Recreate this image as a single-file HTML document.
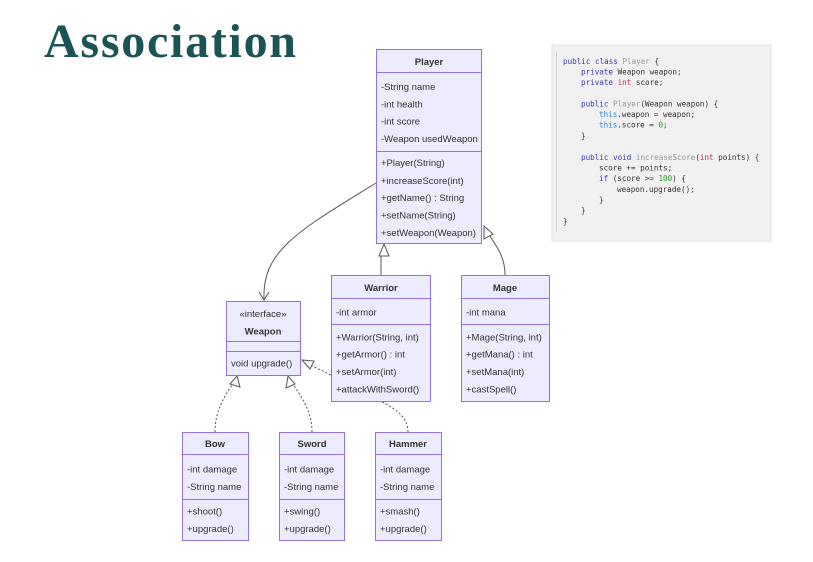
<!DOCTYPE html>
<html><head><meta charset="utf-8"><style>
html,body{margin:0;padding:0;background:#fff;width:813px;height:562px;overflow:hidden}
svg{display:block}
.t{font-family:"Liberation Sans",sans-serif;font-size:9.5px;fill:#333}
.b{font-weight:bold}
.c{font-family:"DejaVu Sans Mono","Liberation Mono",monospace;font-size:7.6px;fill:#333}
.k{fill:#3a3aa8}.r{fill:#b03050}.g{fill:#999}.bl{fill:#2a88c8}.n{fill:#2a9a2a}
</style></head><body>
<svg width="813" height="562" viewBox="0 0 813 562" xmlns="http://www.w3.org/2000/svg">
<text x="44" y="57" font-family="Liberation Serif,serif" font-weight="bold" font-size="48" fill="#1b5454" textLength="252" lengthAdjust="spacing">Association</text>

<!-- code box -->
<rect x="552" y="45" width="219" height="196" fill="#f1f1f1" stroke="#e2e2e2"/>
<rect x="556" y="52" width="1" height="180" fill="#d0d0d0"/>
<g class="c">
<text x="563" y="64"><tspan class="k">public class</tspan> <tspan class="g">Player</tspan> {</text>
<text x="581" y="74.5"><tspan class="k">private</tspan> Weapon weapon;</text>
<text x="581" y="85"><tspan class="k">private</tspan> <tspan class="r">int</tspan> score;</text>
<text x="581" y="106.5"><tspan class="k">public</tspan> <tspan class="g">Player</tspan>(Weapon weapon) {</text>
<text x="599" y="117"><tspan class="bl">this</tspan>.weapon = weapon;</text>
<text x="599" y="127.5"><tspan class="bl">this</tspan>.score = <tspan class="n">0</tspan>;</text>
<text x="581" y="138.5">}</text>
<text x="581" y="160"><tspan class="k">public void</tspan> <tspan class="g">increaseScore</tspan>(<tspan class="r">int</tspan> points) {</text>
<text x="599" y="170.5">score += points;</text>
<text x="599" y="181"><tspan class="k">if</tspan> (score &gt;= <tspan class="n">100</tspan>) {</text>
<text x="617" y="192">weapon.upgrade();</text>
<text x="599" y="202.5">}</text>
<text x="581" y="213">}</text>
<text x="563" y="224">}</text>
</g>

<!-- connectors -->
<g fill="none" stroke="#555" stroke-width="1">
<path d="M376,183 C300,230 262,250 264,299"/>
<path d="M259,292 L264,300 L269,292"/>
<path d="M381,275 L381,258 C381,254 384,252 384,247"/>
<path d="M505,275 C505,255 495,245 488,233"/>
</g>
<g fill="#fff" stroke="#555" stroke-width="1">
<path d="M384,244 L379,256 L389,256 Z"/>
<path d="M484,226 L484,239 L493,234 Z"/>
</g>
<g fill="none" stroke="#555" stroke-width="1" stroke-dasharray="2,2">
<path d="M215,432 C215,410 225,395 235,381"/>
<path d="M312,432 C312,410 300,395 291,381"/>
<path d="M408,432 C408,420 400,410 378,400 L331,375 L310,365"/>
</g>
<g fill="#fff" stroke="#555" stroke-width="1">
<path d="M237,376 L230,384 L240,387 Z"/>
<path d="M288,376 L286,388 L295,384 Z"/>
<path d="M302,360 L310,369 L314,361 Z"/>
</g>

<!-- boxes -->
<g fill="#ececfe" stroke="#9370db" stroke-width="1">
<rect x="376.5" y="49.5" width="105" height="194"/>
<rect x="331.5" y="275.5" width="99" height="126"/>
<rect x="461.5" y="275.5" width="88" height="126"/>
<rect x="226.5" y="301.5" width="74" height="74"/>
<rect x="182.5" y="432.5" width="66" height="108"/>
<rect x="279.5" y="432.5" width="65" height="108"/>
<rect x="375.5" y="432.5" width="66" height="108"/>
</g>
<g stroke="#9370db" stroke-width="1">
<line x1="376" y1="72.5" x2="482" y2="72.5"/><line x1="376" y1="151.5" x2="482" y2="151.5"/>
<line x1="331" y1="298.5" x2="431" y2="298.5"/><line x1="331" y1="324.5" x2="431" y2="324.5"/>
<line x1="461" y1="298.5" x2="550" y2="298.5"/><line x1="461" y1="324.5" x2="550" y2="324.5"/>
<line x1="226" y1="341.5" x2="301" y2="341.5"/><line x1="226" y1="351.5" x2="301" y2="351.5"/>
<line x1="182" y1="454.5" x2="249" y2="454.5"/><line x1="182" y1="499.5" x2="249" y2="499.5"/>
<line x1="279" y1="454.5" x2="345" y2="454.5"/><line x1="279" y1="499.5" x2="345" y2="499.5"/>
<line x1="375" y1="454.5" x2="442" y2="454.5"/><line x1="375" y1="499.5" x2="442" y2="499.5"/>
</g>

<g class="t">
<text x="429" y="65" text-anchor="middle" class="t b">Player</text>
<text x="381" y="90">-String name</text>
<text x="381" y="107.5">-int health</text>
<text x="381" y="124.5">-int score</text>
<text x="381" y="142">-Weapon usedWeapon</text>
<text x="381" y="166">+Player(String)</text>
<text x="381" y="184">+increaseScore(int)</text>
<text x="381" y="201">+getName() : String</text>
<text x="381" y="218.5">+setName(String)</text>
<text x="381" y="236">+setWeapon(Weapon)</text>

<text x="381" y="291" text-anchor="middle" class="t b">Warrior</text>
<text x="336" y="315.5">-int armor</text>
<text x="336" y="340.5">+Warrior(String, int)</text>
<text x="336" y="357.5">+getArmor() : int</text>
<text x="336" y="375">+setArmor(int)</text>
<text x="336" y="392.5">+attackWithSword()</text>

<text x="505" y="291" text-anchor="middle" class="t b">Mage</text>
<text x="466" y="315.5">-int mana</text>
<text x="466" y="340.5">+Mage(String, int)</text>
<text x="466" y="357.5">+getMana() : int</text>
<text x="466" y="375">+setMana(int)</text>
<text x="466" y="392.5">+castSpell()</text>

<text x="263" y="317" text-anchor="middle">«interface»</text>
<text x="263" y="334.5" text-anchor="middle" class="t b">Weapon</text>
<text x="231" y="366.5">void upgrade()</text>

<text x="215" y="447" text-anchor="middle" class="t b">Bow</text>
<text x="187" y="472.5">-int damage</text>
<text x="187" y="490">-String name</text>
<text x="187" y="514.5">+shoot()</text>
<text x="187" y="532">+upgrade()</text>

<text x="312" y="447" text-anchor="middle" class="t b">Sword</text>
<text x="284" y="472.5">-int damage</text>
<text x="284" y="490">-String name</text>
<text x="284" y="514.5">+swing()</text>
<text x="284" y="532">+upgrade()</text>

<text x="408" y="447" text-anchor="middle" class="t b">Hammer</text>
<text x="380" y="472.5">-int damage</text>
<text x="380" y="490">-String name</text>
<text x="380" y="514.5">+smash()</text>
<text x="380" y="532">+upgrade()</text>
</g>
</svg>
</body></html>
